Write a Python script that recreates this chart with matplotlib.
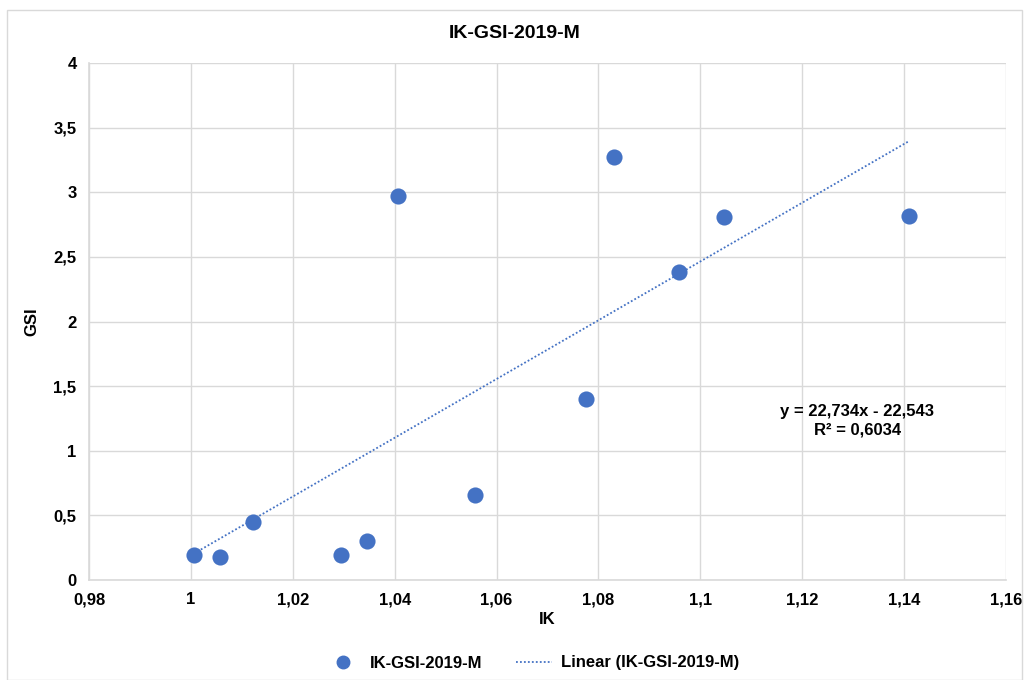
import matplotlib
matplotlib.use('Agg')
import matplotlib.pyplot as plt
from matplotlib.patches import Rectangle
from matplotlib.ticker import FuncFormatter, MultipleLocator
from matplotlib.lines import Line2D
import numpy as np

ik = [1.0006, 1.0057, 1.0122, 1.0295, 1.0346, 1.0407, 1.0558, 1.0776, 1.0831, 1.0958, 1.1047, 1.1410]
gsi = [0.19, 0.18, 0.45, 0.19, 0.30, 2.97, 0.66, 1.40, 3.27, 2.38, 2.81, 2.82]
slope = 22.734
intercept = -22.543
eq_text = 'y = 22,734x - 22,543\nR² = 0,6034'
series_name = 'IK-GSI-2019-M'

blue = '#4472C4'
plt.rcParams['font.family'] = ['Liberation Sans', 'DejaVu Sans']
plt.rcParams['font.weight'] = 'bold'

fig = plt.figure(figsize=(10.29, 6.80), dpi=100)
fig.patches.append(Rectangle((7 / 1029, 0), 1015 / 1029, 670 / 680, transform=fig.transFigure,
                             fill=False, edgecolor='#d9d9d9', linewidth=1))
ax = fig.add_axes([89 / 1029, 1 - 580 / 680, 917 / 1029, 517 / 680])

ax.scatter(ik, gsi, s=135, color=blue, zorder=3, linewidths=0)
xs = np.array([min(ik), max(ik)])
ax.plot(xs, slope * xs + intercept, color=blue, linestyle=(0, (1, 1.2)), linewidth=1.3, zorder=2)

ax.set_xlim(0.98, 1.16)
ax.set_ylim(0, 4)
ax.xaxis.set_major_locator(MultipleLocator(0.02))
ax.yaxis.set_major_locator(MultipleLocator(0.5))


def comma_fmt(v, pos):
    s = ('%.2f' % v).rstrip('0').rstrip('.')
    return s.replace('.', ',')


ax.xaxis.set_major_formatter(FuncFormatter(comma_fmt))
ax.yaxis.set_major_formatter(FuncFormatter(comma_fmt))
ax.grid(True, color='#d9d9d9', linewidth=1)
ax.set_axisbelow(True)
for side in ['top', 'right']:
    ax.spines[side].set_visible(False)
for side in ['left', 'bottom']:
    ax.spines[side].set_color('#d9d9d9')
    ax.spines[side].set_linewidth(1.2)
ax.tick_params(length=0, labelsize=12, pad=9)
for lbl in ax.get_xticklabels() + ax.get_yticklabels():
    lbl.set_fontweight('bold')

ax.set_xlabel('IK', fontsize=12, fontweight='bold', labelpad=3)
ax.set_ylabel('GSI', fontsize=12, fontweight='bold', labelpad=10)
fig.text(0.5, 1 - 33 / 680, series_name, ha='center', va='center', fontsize=14, fontweight='bold')

ax.text(1.1308, 1.23, eq_text, ha='center', va='center',
        fontsize=12, fontweight='bold', linespacing=1.3)

handles = [Line2D([], [], marker='o', linestyle='none', color=blue, markersize=9),
           Line2D([], [], color=blue, linestyle=(0, (1, 1.2)), linewidth=1.3)]
fig.legend(handles, [series_name, 'Linear (%s)' % series_name], loc='center',
           bbox_to_anchor=(0.517, 1 - 663 / 680), ncol=2, frameon=False,
           prop={'size': 12, 'weight': 'bold'}, columnspacing=2.0, handlelength=2.2, handletextpad=0.5)

fig.savefig('out.png', dpi=100)
